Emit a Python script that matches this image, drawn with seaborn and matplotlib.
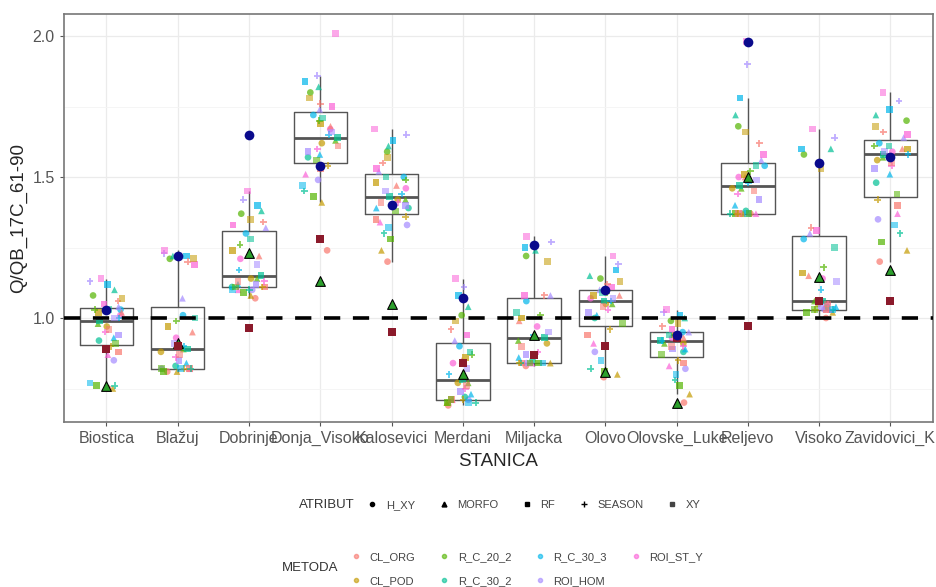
import numpy as np
import pandas as pd
import seaborn as sns
import matplotlib.pyplot as plt
from matplotlib.lines import Line2D

# Stations and categories
stanice = ['Biostica', 'Blažuj', 'Dobrinje', 'Donja_Visoko', 'Kalosevici', 'Merdani',
           'Miljacka', 'Olovo', 'Olovske_Luke', 'Reljevo', 'Visoko', 'Zavidovici_K']
metode = ['CL_ORG', 'CL_POD', 'R_C_20_2', 'R_C_30_2', 'R_C_30_3', 'ROI_HOM', 'ROI_ST_Y']
atributi = ['H_XY', 'MORFO', 'RF', 'SEASON', 'XY']
boje = ['#F8766D', '#C49A00', '#53B400', '#00C094', '#00B6EB', '#A58AFF', '#FB61D7']

# Q/QB ratios (35 per station = 7 methods x 5 attributes)
q_biostica = [0.75, 0.75, 0.76, 0.76, 0.77, 0.85, 0.87, 0.88, 0.90, 0.91, 0.92, 0.93, 0.94, 0.95, 0.96, 0.97, 0.98,
              0.99, 1.00, 1.00, 1.01, 1.02, 1.02, 1.03, 1.03, 1.03, 1.04, 1.05, 1.06, 1.07, 1.08, 1.10, 1.12, 1.13, 1.14]
q_blazuj = [0.81, 0.81, 0.81, 0.82, 0.82, 0.82, 0.82, 0.82, 0.82, 0.82, 0.83, 0.84, 0.85, 0.86, 0.87, 0.88, 0.89,
            0.89, 0.90, 0.91, 0.93, 0.95, 0.97, 0.99, 1.00, 1.01, 1.07, 1.19, 1.20, 1.21, 1.21, 1.22, 1.22, 1.23, 1.24]
q_dobrinje = [1.07, 1.08, 1.09, 1.10, 1.10, 1.10, 1.10, 1.11, 1.11, 1.11, 1.11, 1.12, 1.12, 1.13, 1.13, 1.14, 1.14,
              1.15, 1.17, 1.19, 1.21, 1.22, 1.24, 1.26, 1.28, 1.30, 1.32, 1.33, 1.34, 1.35, 1.37, 1.38, 1.40, 1.42, 1.45]
q_donja_visoko = [1.24, 1.41, 1.43, 1.45, 1.47, 1.49, 1.51, 1.53, 1.54, 1.56, 1.57, 1.58, 1.59, 1.60, 1.61, 1.62, 1.63,
                  1.64, 1.65, 1.66, 1.67, 1.68, 1.69, 1.70, 1.71, 1.72, 1.74, 1.75, 1.76, 1.78, 1.80, 1.82, 1.84, 1.86, 2.01]
q_kalosevici = [1.20, 1.24, 1.28, 1.30, 1.32, 1.33, 1.34, 1.35, 1.36, 1.38, 1.39, 1.39, 1.40, 1.41, 1.41, 1.42, 1.42,
                1.43, 1.44, 1.45, 1.46, 1.47, 1.48, 1.49, 1.50, 1.50, 1.52, 1.53, 1.55, 1.57, 1.59, 1.61, 1.63, 1.65, 1.67]
q_merdani = [0.69, 0.70, 0.70, 0.70, 0.70, 0.71, 0.71, 0.71, 0.71, 0.71, 0.72, 0.73, 0.74, 0.75, 0.76, 0.77, 0.77,
             0.78, 0.80, 0.82, 0.84, 0.85, 0.86, 0.87, 0.88, 0.90, 0.92, 0.94, 0.96, 0.99, 1.01, 1.04, 1.08, 1.11, 1.14]
q_miljacka = [0.83, 0.84, 0.84, 0.84, 0.84, 0.84, 0.84, 0.84, 0.84, 0.84, 0.85, 0.86, 0.87, 0.88, 0.90, 0.91, 0.92,
              0.93, 0.94, 0.95, 0.97, 0.99, 1.00, 1.01, 1.02, 1.06, 1.08, 1.08, 1.08, 1.20, 1.22, 1.24, 1.25, 1.27, 1.29]
q_olovo = [0.79, 0.80, 0.81, 0.82, 0.85, 0.88, 0.91, 0.94, 0.96, 0.98, 1.00, 1.01, 1.02, 1.03, 1.04, 1.05, 1.05,
           1.06, 1.06, 1.07, 1.07, 1.08, 1.08, 1.09, 1.09, 1.10, 1.10, 1.11, 1.12, 1.13, 1.14, 1.15, 1.17, 1.19, 1.22]
q_olovske_luke = [0.70, 0.73, 0.76, 0.78, 0.80, 0.82, 0.83, 0.84, 0.85, 0.87, 0.88, 0.89, 0.89, 0.90, 0.90, 0.91, 0.91,
                  0.92, 0.92, 0.93, 0.93, 0.93, 0.94, 0.94, 0.94, 0.95, 0.95, 0.96, 0.97, 0.98, 0.99, 1.00, 1.01, 1.02, 1.03]
q_reljevo = [1.37, 1.37, 1.37, 1.37, 1.37, 1.37, 1.37, 1.37, 1.37, 1.37, 1.38, 1.40, 1.42, 1.44, 1.45, 1.46, 1.46,
             1.47, 1.48, 1.49, 1.50, 1.50, 1.51, 1.52, 1.54, 1.54, 1.56, 1.58, 1.62, 1.66, 1.68, 1.72, 1.78, 1.90, 1.98]
q_visoko = [1.00, 1.02, 1.02, 1.03, 1.03, 1.03, 1.03, 1.03, 1.03, 1.03, 1.04, 1.04, 1.04, 1.05, 1.05, 1.05, 1.06,
            1.06, 1.10, 1.13, 1.14, 1.15, 1.16, 1.18, 1.25, 1.28, 1.30, 1.31, 1.32, 1.53, 1.58, 1.60, 1.60, 1.64, 1.67]
q_zavidovici = [1.20, 1.24, 1.27, 1.30, 1.33, 1.35, 1.37, 1.40, 1.42, 1.44, 1.48, 1.51, 1.53, 1.54, 1.55, 1.56, 1.57,
                1.58, 1.58, 1.59, 1.59, 1.60, 1.60, 1.61, 1.61, 1.62, 1.64, 1.65, 1.66, 1.68, 1.70, 1.72, 1.74, 1.77, 1.80]

# highlighted reference points (one per station)
ref_plavi = [1.03, 1.22, 1.65, 1.54, 1.40, 1.07, 1.26, 1.10, 0.94, 1.98, 1.55, 1.57]
ref_crveni = [0.89, 0.90, 0.965, 1.28, 0.95, 0.84, 0.87, 0.90, 0.93, 0.97, 1.06, 1.06]
ref_zeleni = [0.76, 0.91, 1.23, 1.13, 1.05, 0.80, 0.94, 0.81, 0.70, 1.50, 1.145, 1.17]

svi = [q_biostica, q_blazuj, q_dobrinje, q_donja_visoko, q_kalosevici, q_merdani,
       q_miljacka, q_olovo, q_olovske_luke, q_reljevo, q_visoko, q_zavidovici]

rows = []
for st, vals in zip(stanice, svi):
    for k, v in enumerate(vals):
        rows.append({'STANICA': st, 'Q': v, 'METODA': metode[k % 7], 'ATRIBUT': atributi[k % 5]})
df = pd.DataFrame(rows)
ref = pd.DataFrame({'STANICA': stanice, 'plavi': ref_plavi, 'crveni': ref_crveni, 'zeleni': ref_zeleni})

sns.set_theme(style='white')
plt.rcParams['font.family'] = ['Liberation Sans', 'DejaVu Sans']

fig = plt.figure(figsize=(9.36, 5.87), dpi=100)
ax = fig.add_axes([0.068, 0.281, 0.929, 0.695])

sns.boxplot(data=df, x='STANICA', y='Q', order=stanice, ax=ax, width=0.75, showfliers=False,
            showcaps=False, fill=False, color='#555555', linewidth=1.0,
            medianprops=dict(linewidth=2.0, color='#555555'))

np.random.seed(3)
oblici = {'H_XY': ('o', 0), 'MORFO': ('^', 0), 'RF': ('s', 0), 'SEASON': ('+', 1.3), 'XY': ('s', 0)}
for atr in atributi:
    m, lw = oblici[atr]
    sub = df[df['ATRIBUT'] == atr]
    sns.stripplot(data=sub, x='STANICA', y='Q', hue='METODA', order=stanice, hue_order=metode,
                  palette=boje, marker=m, linewidth=lw, jitter=0.25, size=4.8,
                  alpha=0.7 if atr != 'XY' else 0.55, legend=False, ax=ax, zorder=3)

sns.stripplot(data=ref, x='STANICA', y='zeleni', order=stanice, jitter=False, marker='^', color='#2CA02C',
              edgecolor='black', linewidth=0.8, size=7, ax=ax, zorder=5)
sns.stripplot(data=ref, x='STANICA', y='crveni', order=stanice, jitter=False, marker='s', color='#8B1A2B',
              size=6, ax=ax, zorder=5)
sns.stripplot(data=ref, x='STANICA', y='plavi', order=stanice, jitter=False, marker='o', color='#0A0A8C',
              size=7, ax=ax, zorder=5)

ax.axhline(1.0, color='black', lw=2.6, ls=(0, (4.5, 3.5)), zorder=6)

ax.set_xlim(-0.6, 11.6)
ax.set_ylim(0.631, 2.078)
ax.set_yticks([1.0, 1.5, 2.0])
ax.set_yticklabels(['1.0', '1.5', '2.0'])
ax.set_yticks([0.75, 1.25, 1.75], minor=True)
ax.grid(which='major', color='#EBEBEB', lw=0.9)
ax.grid(which='minor', axis='y', color='#F4F4F4', lw=0.6)
ax.set_axisbelow(True)
for s in ax.spines.values():
    s.set_color('#777777')
    s.set_linewidth(1.2)
ax.tick_params(axis='both', which='major', direction='out', length=3, width=0.8, color='#555555',
               labelcolor='#555555', labelsize=11.5, left=True, bottom=True)
ax.tick_params(axis='y', which='minor', length=0)
ax.set_xlabel('STANICA', fontsize=13.5, labelpad=5)
ax.set_ylabel('Q/QB_17C_61-90', fontsize=13.5, labelpad=4)

# legends
fig.text(327 / 936, 1 - 505 / 587, 'ATRIBUT', ha='center', va='center', fontsize=9.5, color='#333333')
h_atr = [Line2D([], [], ls='', marker='o', color='black', markersize=3),
         Line2D([], [], ls='', marker='^', color='black', markersize=3.5),
         Line2D([], [], ls='', marker='s', color='black', markersize=3.5),
         Line2D([], [], ls='', marker='+', color='black', markersize=5, markeredgewidth=1),
         Line2D([], [], ls='', marker='s', color='#444444', markersize=3.5)]
fig.legend(h_atr, atributi, loc='center left', bbox_to_anchor=(368 / 936, 1 - 505 / 587), ncol=5,
           frameon=False, fontsize=8, handlelength=0.8, handletextpad=0.8, columnspacing=2.2,
           labelcolor='#444444', borderpad=0, borderaxespad=0)

fig.text(310 / 936, 1 - 568 / 587, 'METODA', ha='center', va='center', fontsize=9.5, color='#333333')
h_met = [Line2D([], [], ls='', marker='o', color=c, alpha=0.6, markersize=3) for c in boje]
fig.legend(h_met, metode, loc='center left', bbox_to_anchor=(352 / 936, 1 - 569 / 587), ncol=4,
           frameon=False, fontsize=8, handlelength=0.8, handletextpad=0.8, columnspacing=2.2,
           labelspacing=1.2, labelcolor='#444444', borderpad=0, borderaxespad=0)

fig.savefig('out.png', dpi=100)
